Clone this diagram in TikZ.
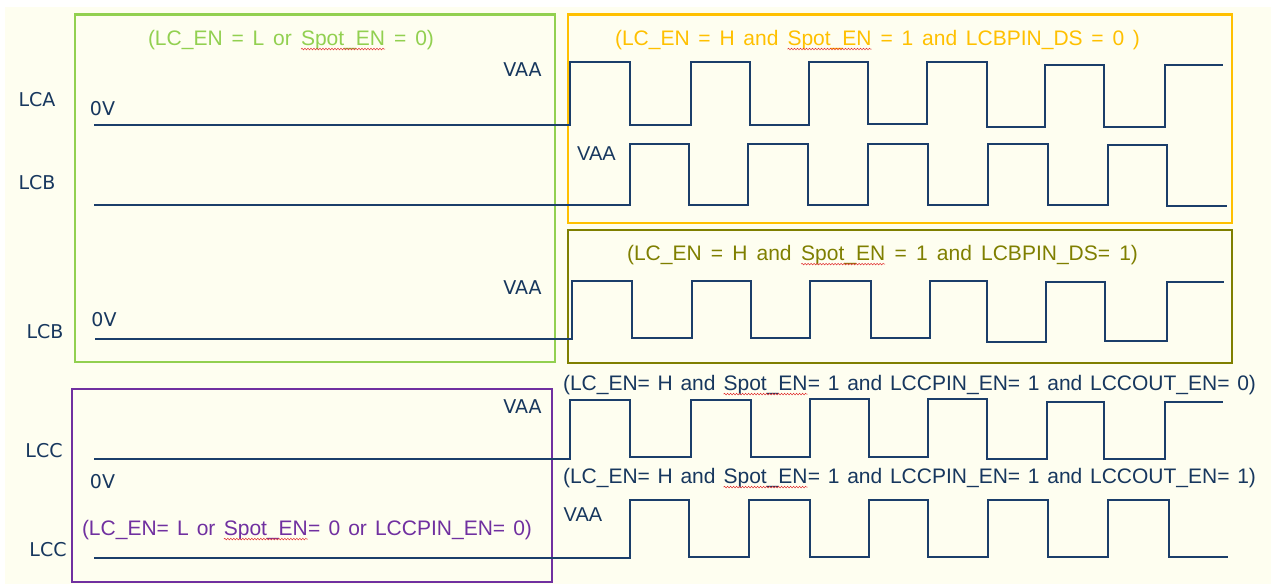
\documentclass[tikz,border=0pt]{standalone}
\usepackage{fontspec}
\setmainfont{Liberation Sans}
\newfontfamily\dvs{DejaVu Sans}
\usetikzlibrary{decorations.pathmorphing}
\definecolor{bgc}{HTML}{FEFEF0}
\definecolor{greenc}{HTML}{92D050}
\definecolor{orangec}{HTML}{FFC000}
\definecolor{olivec}{HTML}{7F7F00}
\definecolor{purplec}{HTML}{7030A0}
\definecolor{navyt}{HTML}{17375E}
\definecolor{navyl}{HTML}{1B3E6A}
\definecolor{spellred}{HTML}{E03030}
\newcommand{\fitto}[2]{\makebox[#1][s]{#2}}
\newcommand{\spell}[1]{\tikz[baseline=(sp.base)]{\node[inner sep=0pt,outer sep=0pt,anchor=base] (sp) {#1};\draw[spellred,line width=0.5pt,decorate,decoration={snake,amplitude=0.8pt,segment length=3pt}] ([yshift=-4pt]sp.base west) -- ([yshift=-4pt]sp.base east);}}
\begin{document}
\begin{tikzpicture}[x=1pt,y=-1pt,
  box/.style={line width=2.2pt},
  wave/.style={navyl,line width=2.6pt,line join=miter},
  sig/.style={font=\dvs\fontsize{19}{19}\selectfont,text=navyt,inner sep=0pt},
  lvl/.style={font=\fontsize{20}{20}\selectfont,text=navyt,inner sep=0pt},
  cond/.style={font=\fontsize{21}{21}\selectfont,inner sep=0pt}]
\useasboundingbox (0,0) rectangle (1271,584);
\fill[white] (0,0) rectangle (1271,584);
\fill[bgc] (5,7) rectangle (1271,584);
% boxes
\draw[box,greenc] (74.6,14.5) rectangle (555,362);
\draw[box,orangec] (568,14.5) rectangle (1232,223);
\draw[box,olivec] (568,230) rectangle (1232,363);
\draw[box,purplec] (72,389) rectangle (552,582);
% signal names
\node[sig] (lca) at (37,100) {LCA};
\node[sig] (lcb1) at (37,183) {LCB};
\node[sig] (lcb2) at (45,332) {LCB};
\node[sig] (lcc1) at (44,451) {LCC};
\node[sig] (lcc2) at (48,550) {LCC};
% levels
\node[sig] (zv1) at (102.5,109) {0V};
\node[sig] (zv2) at (104,320) {0V};
\node[sig] (zv3) at (102.5,482) {0V};
\node[sig] (vaa1) at (522.5,70) {VAA};
\node[sig] (vaa2) at (522.5,288) {VAA};
\node[sig] (vaa3) at (522.5,407) {VAA};
\node[lvl] (vaa4) at (596.5,154) {VAA};
\node[lvl] (vaa5) at (583,515) {VAA};
% conditions
\node[cond,text=greenc] (cg) at (291,40) {\fitto{286pt}{(LC\_EN = L or \spell{Spot\_EN} = 0)}};
\node[cond,text=orangec] (co) at (877.5,40) {\fitto{525pt}{(LC\_EN = H and \spell{Spot\_EN} = 1 and LCBPIN\_DS = 0 )}};
\node[cond,text=olivec] (cv) at (882.5,255) {\fitto{511pt}{(LC\_EN = H and \spell{Spot\_EN} = 1 and LCBPIN\_DS= 1)}};
\node[cond,text=navyt] (cn1) at (909.5,385) {\fitto{693pt}{(LC\_EN= H and \spell{Spot\_EN}= 1 and LCCPIN\_EN= 1 and LCCOUT\_EN= 0)}};
\node[cond,text=navyt] (cn2) at (909.5,478) {\fitto{693pt}{(LC\_EN= H and \spell{Spot\_EN}= 1 and LCCPIN\_EN= 1 and LCCOUT\_EN= 1)}};
\node[cond,text=purplec] (cp) at (307,530) {\fitto{450pt}{(LC\_EN= L or \spell{Spot\_EN}= 0 or LCCPIN\_EN= 0)}};
% waveforms
\draw[wave] (94,125) -- (570,125) -- (570,62) -- (630,62) -- (630,125) -- (691,125) -- (691,62) -- (750,62) -- (750,125) -- (809,125) -- (809,62) -- (868,62) -- (868,124) -- (927,124) -- (927,62) -- (987,62) -- (987,127) -- (1045,127) -- (1045,65) -- (1104,65) -- (1104,127) -- (1165,127) -- (1165,65) -- (1223,65);
\draw[wave] (94,205) -- (630,205) -- (630,144) -- (689,144) -- (689,205) -- (748,205) -- (748,144) -- (808,144) -- (808,205) -- (868,205) -- (868,144) -- (928,144) -- (928,205) -- (988,205) -- (988,144) -- (1048,144) -- (1048,205) -- (1108,205) -- (1108,145) -- (1167,145) -- (1167,206) -- (1227,206);
\draw[wave] (95,339) -- (572,339) -- (572,281) -- (632,281) -- (632,338) -- (692,338) -- (692,281) -- (751,281) -- (751,338) -- (810,338) -- (810,281) -- (871,281) -- (871,338) -- (930,338) -- (930,281) -- (987,281) -- (987,342) -- (1046,342) -- (1046,282) -- (1105,282) -- (1105,341) -- (1167,341) -- (1167,282) -- (1224,282);
\draw[wave] (94,459) -- (570,459) -- (570,400) -- (630,400) -- (630,457) -- (691,457) -- (691,400) -- (751,400) -- (751,457) -- (810,457) -- (810,399) -- (869,399) -- (869,457) -- (928,457) -- (928,399) -- (987,399) -- (987,459) -- (1047,459) -- (1047,402) -- (1104,402) -- (1104,459) -- (1165,459) -- (1165,402) -- (1223,402);
\draw[wave] (94,558) -- (630,558) -- (630,500) -- (689,500) -- (689,557) -- (749,557) -- (749,500) -- (810,500) -- (810,557) -- (869,557) -- (869,500) -- (928,500) -- (928,557) -- (988,557) -- (988,500) -- (1048,500) -- (1048,557) -- (1108,557) -- (1108,500) -- (1169,500) -- (1169,557) -- (1228,557);
\end{tikzpicture}
\end{document}
